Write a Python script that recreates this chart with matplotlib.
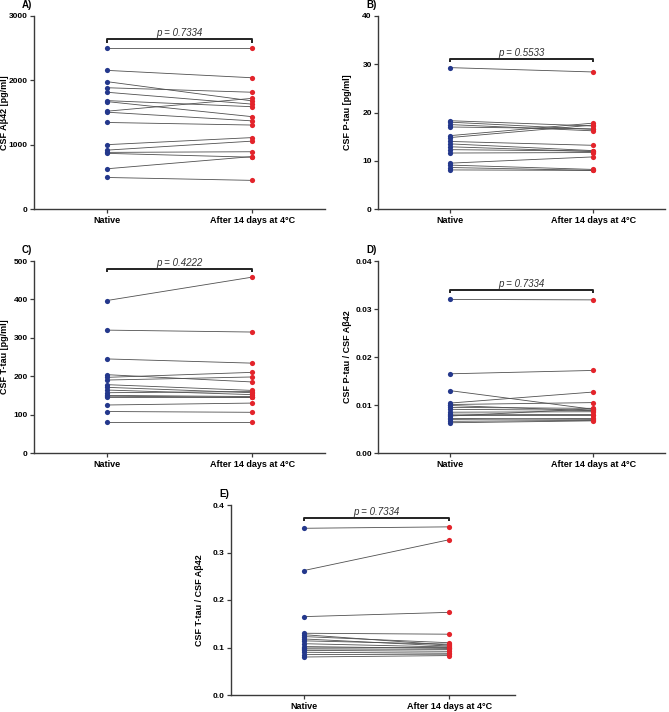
import numpy as np
import matplotlib.pyplot as plt

plt.rcParams['font.family'] = ['Liberation Sans', 'DejaVu Sans']

groups = ['Native', 'After 14 days at 4°C']
navy = '#24388c'
red = '#e3242b'

# panel A: CSF Abeta42
native_A = [2500, 2155, 1980, 1885, 1815, 1685, 1670, 1520, 1505, 1345, 1000, 915, 880, 865, 625, 490]
after_A = [2500, 2040, 1680, 1815, 1630, 1590, 1435, 1720, 1370, 1305, 1110, 1055, 890, 805, 815, 445]

# panel B: CSF P-tau
native_B = [29.3, 18.3, 18.0, 17.5, 17.0, 15.2, 14.8, 14.0, 13.5, 12.9, 12.3, 11.6, 9.5, 9.1, 8.6, 8.1]
after_B = [28.4, 17.2, 16.5, 16.2, 16.6, 17.8, 17.4, 13.2, 12.1, 11.9, 12.0, 11.7, 10.8, 8.2, 8.0, 8.0]

# panel C: CSF T-tau
native_C = [397, 320, 245, 204, 197, 190, 178, 171, 164, 157, 150, 148, 146, 125, 108, 80]
after_C = [458, 315, 234, 185, 210, 198, 163, 157, 152, 160, 147, 145, 146, 130, 106, 80]

# panel D: P-tau / Abeta42
native_D = [0.0320, 0.0165, 0.0130, 0.0104, 0.0101, 0.0099, 0.0095, 0.0091, 0.0085, 0.0081,
            0.0079, 0.0077, 0.0072, 0.0070, 0.0066, 0.0063]
after_D = [0.0319, 0.0172, 0.0091, 0.0127, 0.0105, 0.0088, 0.0093, 0.0089, 0.0086, 0.0080,
           0.0079, 0.0092, 0.0070, 0.0072, 0.0068, 0.0067]

# panel E: T-tau / Abeta42
native_E = [0.351, 0.262, 0.165, 0.130, 0.127, 0.123, 0.118, 0.114, 0.108, 0.102, 0.099, 0.097, 0.094, 0.090, 0.085, 0.080]
after_E = [0.354, 0.327, 0.174, 0.128, 0.105, 0.110, 0.103, 0.107, 0.101, 0.098, 0.100, 0.096, 0.092, 0.088, 0.086, 0.083]

panels = [
    ('A)', 'CSF Aβ42 [pg/ml]', native_A, after_A, [0, 1000, 2000, 3000], '{:.0f}', 2640, 'p = 0.7334'),
    ('B)', 'CSF P-tau [pg/ml]', native_B, after_B, [0, 10, 20, 30, 40], '{:.0f}', 31.1, 'p = 0.5533'),
    ('C)', 'CSF T-tau [pg/ml]', native_C, after_C, [0, 100, 200, 300, 400, 500], '{:.0f}', 480, 'p = 0.4222'),
    ('D)', 'CSF P-tau / CSF Aβ42', native_D, after_D, [0, 0.01, 0.02, 0.03, 0.04], '{:.2f}', 0.0340, 'p = 0.7334'),
    ('E)', 'CSF T-tau / CSF Aβ42', native_E, after_E, [0, 0.1, 0.2, 0.3, 0.4], '{:.1f}', 0.373, 'p = 0.7334'),
]

# axes boxes in pixels (left, top, right, bottom), y-label centre x, panel letter x
W, H = 669, 712
rects = [
    (34, 16, 325, 209, 5, 22),
    (378, 16, 665, 209, 347, 366),
    (34, 261, 325, 453, 5, 22),
    (378, 261, 665, 453, 347, 366),
    (231, 505, 515, 695, 200, 219),
]

fig = plt.figure(figsize=(6.69, 7.12), dpi=100)
axis_col = '#3a3a3a'

for (lab, ylab, nat, aft, ticks, fmt, py, ptxt), (x0, y0, x1, y1, lx, px) in zip(panels, rects):
    ax = fig.add_axes([x0 / W, 1 - y1 / H, (x1 - x0) / W, (y1 - y0) / H])
    for a, b in zip(nat, aft):
        ax.plot([0, 1], [a, b], color='#505050', lw=0.6, zorder=1)
    ax.scatter(np.zeros(len(nat)), nat, s=14, color=navy, zorder=3, linewidths=0)
    ax.scatter(np.ones(len(aft)), aft, s=14, color=red, zorder=3, linewidths=0)

    top = ticks[-1]
    ax.set_ylim(0, top)
    ax.set_xlim(-0.5, 1.5 if lab != 'E)' else 1.45)
    ax.set_yticks(ticks)
    ax.set_yticklabels([fmt.format(t) for t in ticks], fontsize=6, fontweight='bold')
    ax.set_xticks([0, 1])
    ax.set_xticklabels(groups, fontsize=6.5, fontweight='bold')
    ax.set_ylabel(ylab, fontsize=6.5, fontweight='bold', va='center')
    ax.yaxis.set_label_coords((lx - x0) / (x1 - x0), 0.5)
    for s in ['top', 'right']:
        ax.spines[s].set_visible(False)
    for s in ['left', 'bottom']:
        ax.spines[s].set_color(axis_col)
        ax.spines[s].set_linewidth(1.0)
    ax.tick_params(axis='both', length=3, width=0.9, color=axis_col, pad=2)
    ax.tick_params(axis='y', pad=1.5)

    # significance bracket
    d = top * 0.018
    ax.plot([0, 0, 1, 1], [py - d, py, py, py - d], color='#222222', lw=1.4, zorder=2,
            solid_capstyle='butt')
    ax.text(0.5, py + top * 0.005, ptxt, ha='center', va='bottom', fontsize=7, style='italic',
            color='#333333')

    ax.text((px - x0) / (x1 - x0), 1.03, lab, transform=ax.transAxes, fontsize=7,
            fontweight='bold', ha='left', va='bottom')

fig.savefig('out.png', dpi=100)
